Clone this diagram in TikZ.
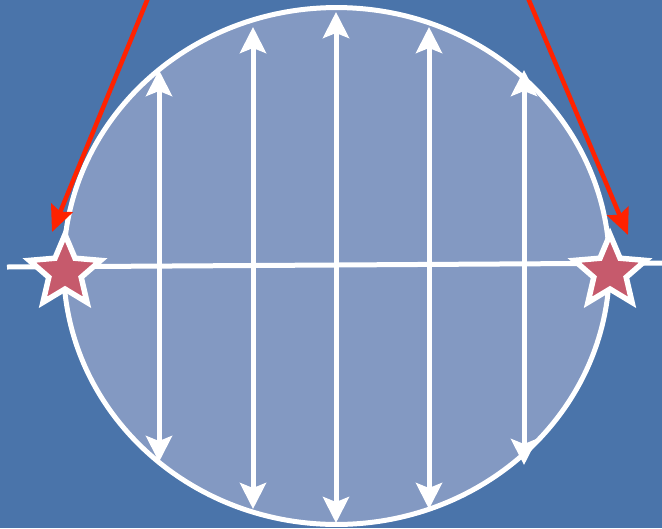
\documentclass[tikz,border=0pt]{standalone}
\usetikzlibrary{arrows.meta,shapes.geometric}

\definecolor{bgblue}{HTML}{4A74AA}
\definecolor{discblue}{HTML}{8399C2}
\definecolor{starred}{HTML}{C65A6C}
\definecolor{arrowred}{HTML}{FF2200}

\begin{document}
\begin{tikzpicture}[x=0.02cm, y=-0.02cm,
  chord/.style={white, line width=0.1cm, {Stealth[length=0.52cm, width=0.52cm, inset=0.1cm]}-{Stealth[length=0.52cm, width=0.52cm, inset=0.1cm]}},
  marker/.style={star, star points=5, star point ratio=2.2, inner sep=0pt, minimum size=1.5cm, fill=starred, draw=white, line width=0.11cm},
  pointer/.style={arrowred, line width=0.09cm, -{Stealth[length=0.52cm, width=0.46cm, inset=0.08cm]}}]
  % background and disc
  \fill[bgblue] (0,0) rectangle (662,528);
  \useasboundingbox (0,0) rectangle (662,528);
  \node[ellipse, draw=white, fill=discblue, line width=0.1cm, minimum width=10.92cm, minimum height=10.34cm, inner sep=0pt] (disc) at (336.5,266) {};

  % horizontal diameter
  \coordinate (lineL) at (7,267);
  \coordinate (lineR) at (662,263);
  \draw[white, line width=0.1cm] (lineL) -- (lineR);

  % vertical chords
  \coordinate (c1t) at (159,70);  \coordinate (c1b) at (159,462);
  \coordinate (c2t) at (253,27);  \coordinate (c2b) at (253,509);
  \coordinate (c3t) at (336,12);  \coordinate (c3b) at (336,523);
  \coordinate (c4t) at (429,27);  \coordinate (c4b) at (429,509);
  \coordinate (c5t) at (524,70);  \coordinate (c5b) at (524,465);
  \draw[chord] (c1b) -- (c1t);
  \draw[chord] (c2b) -- (c2t);
  \draw[chord] (c3b) -- (c3t);
  \draw[chord] (c4b) -- (c4t);
  \draw[chord] (c5b) -- (c5t);

  % stars on the rim
  \node[marker] (starL) at (65,272) {};
  \node[marker] (starR) at (610,272) {};

  % red pointers
  \coordinate (redL) at (148,-2);
  \coordinate (tipL) at (52,232);
  \coordinate (redR) at (528,-2);
  \coordinate (tipR) at (628,235);
  \draw[pointer] (redL) -- (tipL);
  \draw[pointer] (redR) -- (tipR);
\end{tikzpicture}
\end{document}
